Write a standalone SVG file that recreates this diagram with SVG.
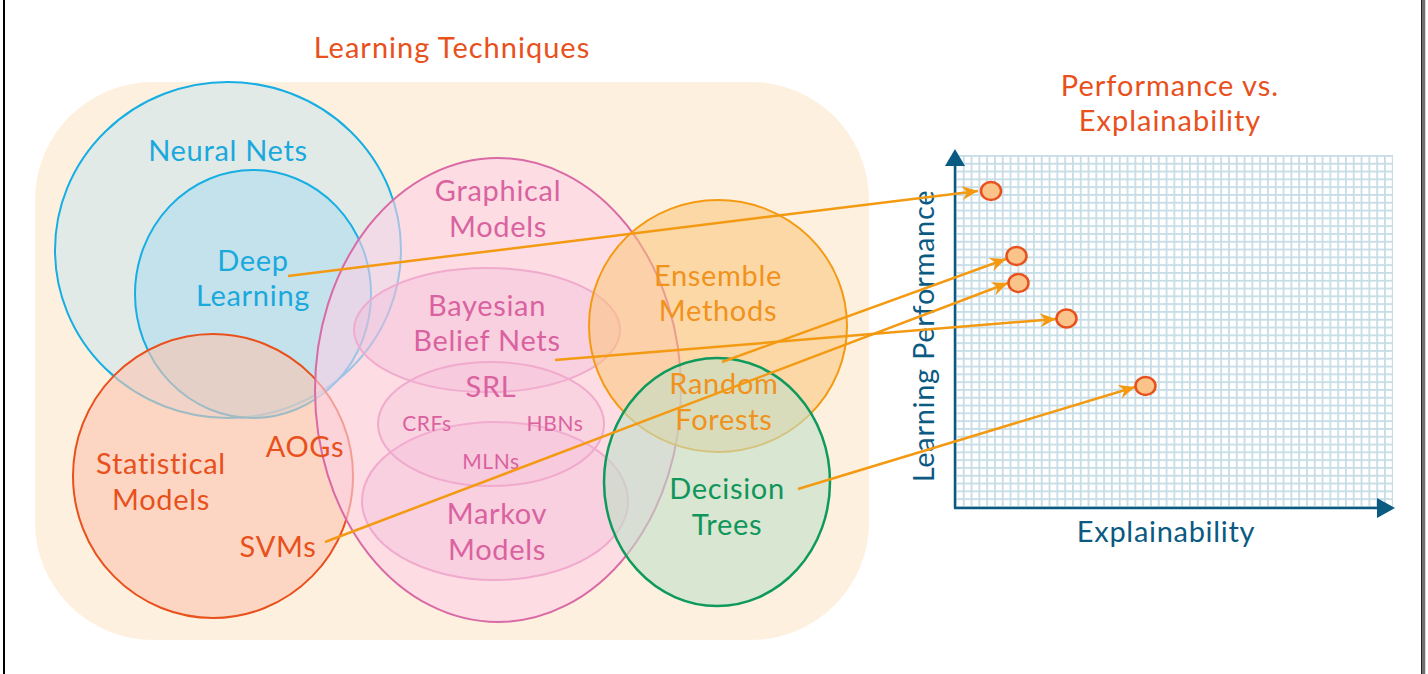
<svg xmlns="http://www.w3.org/2000/svg" width="1428" height="674" viewBox="0 0 1428 674">
<defs>
<style>
text{font-family:Lato,"Open Sans","Liberation Sans",sans-serif;text-anchor:middle}
.t{font-size:29px;letter-spacing:0.7px}
.h{font-size:29px;letter-spacing:1px}
.s{font-size:21px;letter-spacing:0.6px}
.cy{fill:#1aa9dd}.pk{fill:#da62a0}.or{fill:#f0921c}.gr{fill:#10965b}.rd{fill:#e8501c}.bl{fill:#0b5a82}
.conn line{stroke:#f39a12;stroke-width:2.5;marker-end:url(#ah)}
.dot{fill:#f9c38a;stroke:#e8501c;stroke-width:2.5}
.pkl{stroke:#f0aacd;stroke-width:2}
</style>
<marker id="ah" markerUnits="userSpaceOnUse" markerWidth="18" markerHeight="14" refX="16" refY="7" orient="auto">
<path d="M0,0 L16,7 L0,14 L5,7 z" fill="#f39a12"/>
</marker>
<pattern id="grid" x="955" y="155" width="7.8" height="7.8" patternUnits="userSpaceOnUse">
<rect width="7.8" height="7.8" fill="#c6dce6"/>
<rect x="1.8" y="1.8" width="6" height="6" fill="#ffffff"/>
</pattern>
</defs>
<rect width="1428" height="674" fill="#ffffff"/>
<line x1="4" y1="0" x2="4" y2="674" stroke="#000" stroke-width="2"/>
<line x1="1423.5" y1="0" x2="1423.5" y2="674" stroke="#707070" stroke-width="3.5"/>
<line x1="1421.5" y1="0" x2="1421.5" y2="674" stroke="#222" stroke-width="1"/>

<g id="background">
<rect x="35" y="82" width="834" height="558" rx="118" ry="118" fill="#fef0de"/>
<text class="h rd" x="452" y="58">Learning Techniques</text>
</g>

<g id="neural-nets">
<ellipse cx="228" cy="250" rx="173" ry="168" fill="#cfe6ee" fill-opacity="0.6" stroke="#16aee3" stroke-width="2"/>
</g>
<g id="deep-learning">
<ellipse cx="253" cy="294" rx="118" ry="124" fill="#b0dcee" fill-opacity="0.6" stroke="#16aee3" stroke-width="2"/>
</g>
<g id="statistical-models">
<ellipse cx="213" cy="476" rx="140" ry="142" fill="#fcc5b0" fill-opacity="0.6" stroke="#e8501c" stroke-width="2"/>
</g>
<g id="graphical-models">
<ellipse cx="498" cy="390" rx="183" ry="232" fill="#fcd0e6" fill-opacity="0.6" stroke="#d96aa6" stroke-width="2"/>
</g>
<g id="bayesian-belief-nets">
<ellipse class="pkl" cx="487" cy="330" rx="133" ry="62" fill="#f2b8d6" fill-opacity="0.35"/>
</g>
<g id="markov-models">
<ellipse class="pkl" cx="495" cy="501" rx="133" ry="79" fill="#f2b8d6" fill-opacity="0.35"/>
</g>
<g id="srl">
<ellipse class="pkl" cx="491" cy="424" rx="113" ry="62" fill="#f2b8d6" fill-opacity="0.25"/>
</g>
<g id="ensemble-methods">
<ellipse cx="718" cy="326" rx="129" ry="126" fill="#fbc47a" fill-opacity="0.55" stroke="#f39a12" stroke-width="2"/>
</g>
<g id="decision-trees">
<ellipse cx="717" cy="482" rx="113" ry="124" fill="#c0e0c8" fill-opacity="0.6" stroke="#0e9a5c" stroke-width="2.5"/>
</g>

<g id="labels">
<text class="t cy" x="228" y="161">Neural Nets</text>
<text class="t cy" x="253" y="271">Deep</text>
<text class="t cy" x="253" y="306">Learning</text>
<text class="t rd" x="161" y="474">Statistical</text>
<text class="t rd" x="161" y="510">Models</text>
<text class="t rd" x="305" y="457">AOGs</text>
<text class="t rd" x="278" y="557">SVMs</text>
<text class="t pk" x="498" y="201">Graphical</text>
<text class="t pk" x="498" y="237">Models</text>
<text class="t pk" x="487" y="316">Bayesian</text>
<text class="t pk" x="487" y="351">Belief Nets</text>
<text class="t pk" x="491" y="397">SRL</text>
<text class="s pk" x="427" y="431">CRFs</text>
<text class="s pk" x="555" y="431">HBNs</text>
<text class="s pk" x="491" y="469">MLNs</text>
<text class="t pk" x="497" y="524">Markov</text>
<text class="t pk" x="497" y="560">Models</text>
<text class="t or" x="718" y="286">Ensemble</text>
<text class="t or" x="718" y="321">Methods</text>
<text class="t or" x="724" y="394">Random</text>
<text class="t or" x="724" y="430">Forests</text>
<text class="t gr" x="727" y="499">Decision</text>
<text class="t gr" x="727" y="535">Trees</text>
</g>

<g id="chart">
<text class="h rd" x="1170" y="96">Performance vs.</text>
<text class="h rd" x="1170" y="131">Explainability</text>
<rect x="955" y="155" width="438" height="353" fill="url(#grid)"/>
<line x1="955" y1="508" x2="955" y2="164" stroke="#0b5a82" stroke-width="2.5"/>
<path d="M945,166 L955,149 L965,166 z" fill="#0b5a82"/>
<line x1="954" y1="508" x2="1380" y2="508" stroke="#0b5a82" stroke-width="2.5"/>
<path d="M1377,498 L1395,508 L1377,518 z" fill="#0b5a82"/>
<text class="t bl" x="1166" y="542">Explainability</text>
<text class="t bl" transform="translate(934,336) rotate(-90)" x="0" y="0">Learning Performance</text>
</g>

<g id="connectors" class="conn">
<line x1="288" y1="276" x2="978" y2="191"/>
<line x1="722" y1="362" x2="1006" y2="259"/>
<line x1="325" y1="542" x2="1008" y2="283"/>
<line x1="555" y1="360" x2="1056" y2="319"/>
<line x1="798" y1="489" x2="1135" y2="387"/>
</g>

<g id="dots">
<ellipse class="dot" cx="991" cy="191" rx="10" ry="9"/>
<ellipse class="dot" cx="1016.5" cy="256" rx="10" ry="9"/>
<ellipse class="dot" cx="1018.5" cy="283" rx="10" ry="9"/>
<ellipse class="dot" cx="1066.5" cy="318.5" rx="10" ry="9"/>
<ellipse class="dot" cx="1145.5" cy="386" rx="10" ry="9"/>
</g>
</svg>
